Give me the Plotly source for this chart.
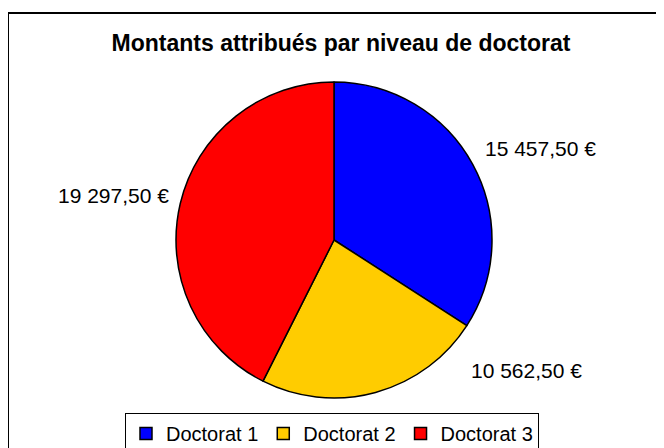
import plotly.graph_objects as go

categories = ["Doctorat 1", "Doctorat 2", "Doctorat 3"]
values = [15457.50, 10562.50, 19297.50]
colors = ["#0000FF", "#FFCC00", "#FF0000"]
title = "Montants attribués par niveau de doctorat"

def fmt(v):
    s = f"{v:,.2f}"
    return s.replace(",", " ").replace(".", ",") + " €"

W, H = 664, 448
OFF = 8  # page body margin

def px(x):
    return (x - OFF) / W

def py(y):
    return 1 - (y - OFF) / H

label_pos = [(540, 148), (526, 370), (113, 195)]

cx, cy, r = 334, 240, 158
fig = go.Figure(go.Pie(
    labels=categories, values=values, sort=False, direction="clockwise", rotation=0,
    marker=dict(colors=colors, line=dict(color="black", width=1.5)),
    textinfo="none", hoverinfo="label+value",
    domain=dict(x=[px(cx - r), px(cx + r)], y=[py(cy + r), py(cy - r)]),
))

annotations = []
for v, (x, y) in zip(values, label_pos):
    annotations.append(dict(text=fmt(v), x=px(x), y=py(y), xref="paper", yref="paper",
                            showarrow=False, xanchor="center", yanchor="middle",
                            font=dict(family="Liberation Sans, Arial", size=21, color="black")))

fig.update_layout(
    width=W, height=H, margin=dict(l=0, r=0, t=0, b=0),
    paper_bgcolor="white", plot_bgcolor="white",
    font=dict(family="Liberation Sans, Arial", color="black"),
    title=dict(text="<b>" + title + "</b>", x=px(341), xanchor="center", y=py(43), yanchor="middle",
               font=dict(family="Liberation Sans, Arial", size=23, color="black")),
    showlegend=True,
    legend=dict(orientation="h", x=px(332), xanchor="center", y=py(413), yanchor="top",
                bordercolor="black", borderwidth=1, bgcolor="white",
                font=dict(size=20, family="Liberation Sans, Arial"),
                itemwidth=30, tracegroupgap=0),
    annotations=annotations,
    shapes=[dict(type="rect", xref="paper", yref="paper", x0=px(8), x1=1.02, y0=-0.02, y1=py(13),
                 line=dict(color="black", width=2))],
)

fig.write_html("out.html")
